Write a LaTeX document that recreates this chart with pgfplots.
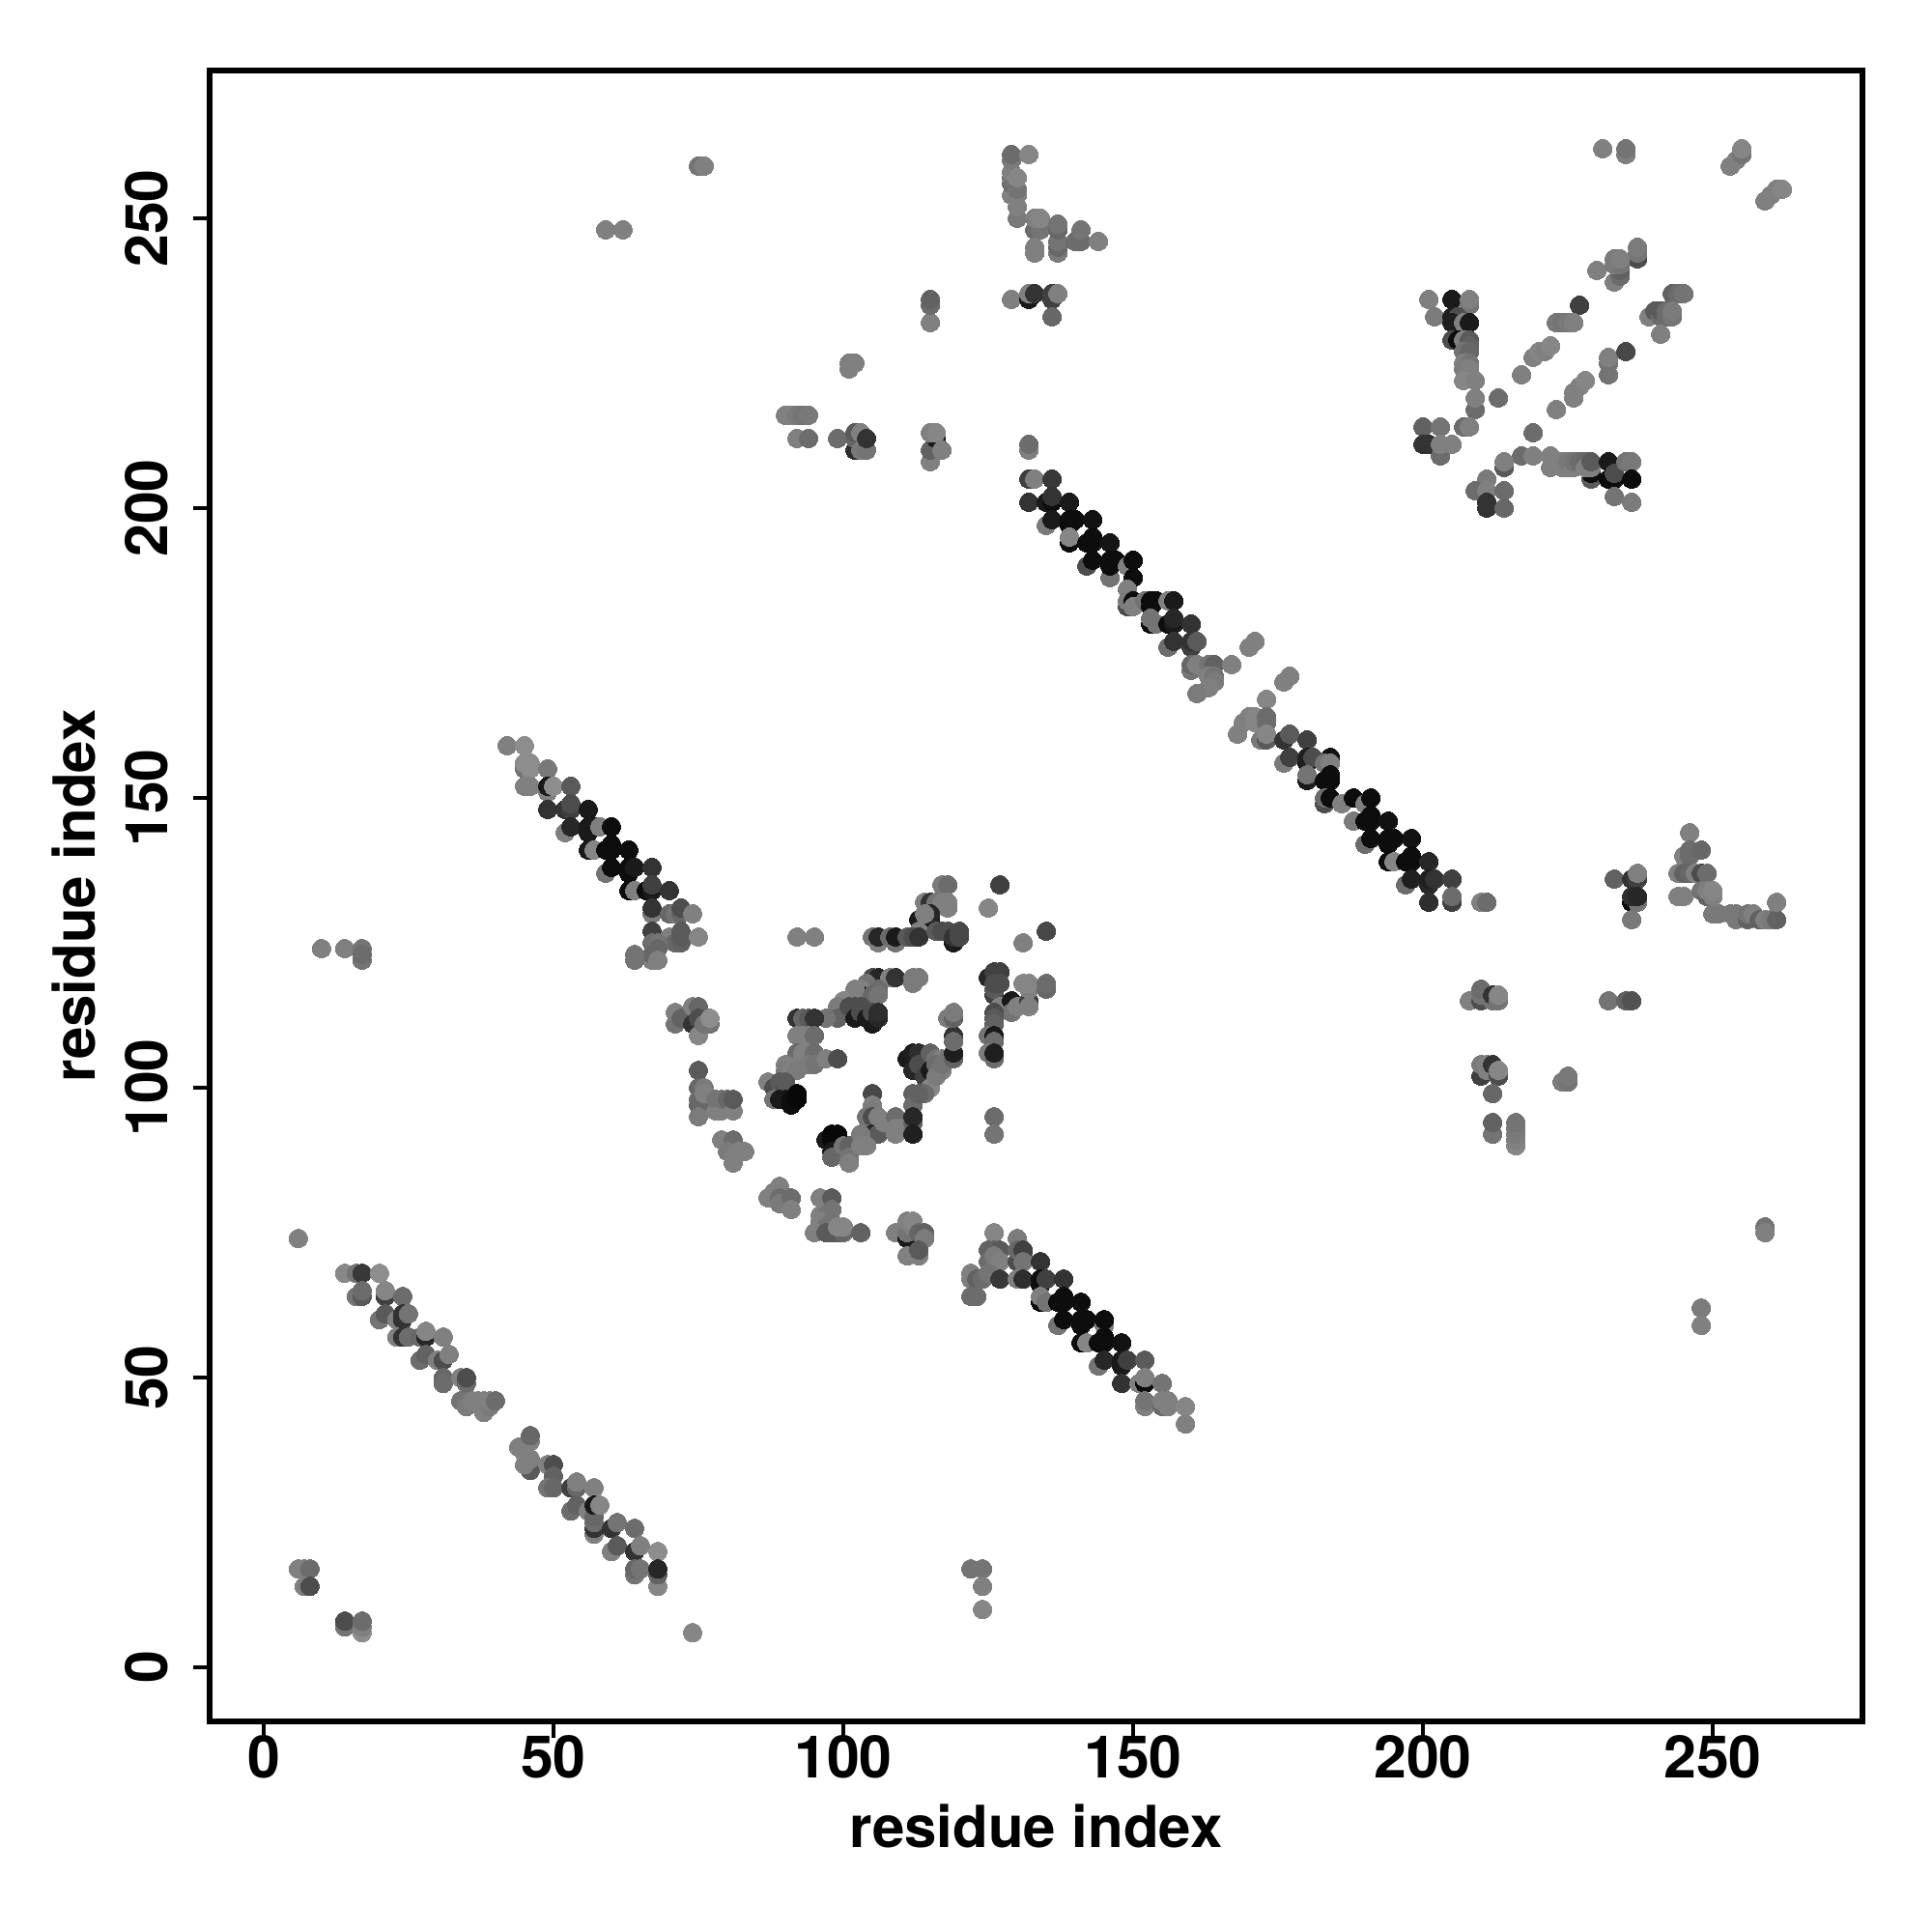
\documentclass[border=0pt]{standalone}
\usepackage{fontspec}
\setmainfont{TeX Gyre Heros}
\usepackage{pgfplots}
\usepackage{pgfplotstable}
\pgfplotsset{compat=1.18}
\pgfplotstableread[row sep=\\]{
x y g\\
6 74 50\\ 14 68 53\\ 16 68 45\\ 17 68 22\\ 20 68 55\\ 16 64 45\\ 17 64 35\\ 17 65 42\\ 21 64 25\\ 21 65 52\\ 24 64 42\\
20 60 45\\ 21 61 35\\ 23 60 50\\ 24 60 20\\ 24 61 20\\ 25 61 45\\ 23 57 50\\ 24 57 20\\ 25 57 42\\ 27 57 40\\ 28 57 15\\ 28 58 52\\ 31 57 50\\
27 53 42\\ 28 54 38\\ 30 53 50\\ 31 53 30\\ 32 54 50\\ 31 50 40\\ 31 49 42\\ 34 50 50\\ 35 49 42\\ 35 50 30\\
34 46 45\\ 35 45 48\\ 36 46 50\\ 37 46 50\\ 38 44 50\\ 38 46 50\\ 39 45 48\\ 39 46 50\\ 40 46 42\\
46 34 35\\ 45 35 50\\ 46 36 50\\ 45 37 50\\ 44 38 50\\ 46 39 50\\ 46 40 40\\ 49 35 50\\ 50 35 30\\ 50 33 38\\ 49 31 45\\ 50 31 40\\
53 31 25\\ 54 31 40\\ 54 32 50\\ 57 31 50\\ 53 27 42\\ 54 28 38\\ 56 27 50\\ 57 23 50\\ 57 24 20\\ 57 25 42\\ 57 26 40\\ 57 28 10\\ 58 28 52\\
60 24 20\\ 61 25 45\\ 64 24 42\\ 60 20 50\\ 61 21 35\\ 64 20 20\\ 65 21 50\\ 68 20 55\\ 64 16 45\\ 64 17 40\\ 65 17 45\\ 68 14 52\\ 68 16 38\\ 68 17 15\\
6 17 50\\ 7 17 50\\ 8 17 42\\ 7 14 50\\ 8 14 30\\ 14 7 45\\ 14 8 30\\ 17 6 55\\ 17 7 50\\ 17 8 42\\ 74 6 52\\
122 17 45\\ 124 17 45\\ 124 14 50\\ 124 10 52\\ 10 124 50\\ 14 124 50\\ 17 124 45\\ 17 122 45\\ 17 123 42\\
59 248 50\\ 62 248 50\\ 75 259 45\\ 76 259 50\\ 259 76 45\\ 259 75 50\\ 248 62 48\\ 248 59 50\\
42 159 50\\ 45 159 55\\ 45 155 45\\ 45 156 55\\ 46 155 55\\ 46 156 55\\ 49 155 47\\ 45 152 50\\ 46 152 50\\ 49 151 50\\ 49 152 10\\ 50 152 55\\ 53 152 35\\
49 148 20\\ 52 148 20\\ 53 148 25\\ 53 149 30\\ 56 148 10\\ 52 144 50\\ 53 145 15\\ 56 144 10\\ 56 145 10\\ 57 145 10\\ 58 145 50\\ 60 145 5\\
56 141 10\\ 57 141 52\\ 59 141 5\\ 60 141 5\\ 60 142 5\\ 63 141 5\\ 59 137 45\\ 60 138 5\\ 63 137 5\\ 63 138 5\\ 64 138 10\\ 67 138 20\\
63 134 5\\ 64 134 50\\ 66 134 5\\ 67 134 10\\ 67 135 25\\ 70 134 20\\ 67 130 48\\ 67 131 20\\ 70 130 40\\ 71 130 45\\ 72 130 40\\ 72 131 30\\ 74 130 50\\
67 127 25\\ 70 126 50\\ 71 125 40\\ 72 125 38\\ 72 126 35\\ 72 127 35\\ 75 126 52\\ 67 125 42\\ 68 125 45\\ 67 122 50\\ 67 123 40\\ 68 124 40\\ 68 122 50\\ 64 122 45\\ 64 123 45\\
92 126 50\\ 95 126 50\\ 71 111 45\\ 71 113 50\\ 72 112 38\\ 74 114 50\\ 75 114 40\\ 74 111 20\\ 75 112 30\\ 75 109 52\\ 76 111 45\\ 77 111 45\\ 77 112 55\\
75 103 35\\ 75 100 40\\ 75 98 42\\ 75 97 40\\ 75 95 48\\ 76 100 48\\ 76 99 50\\ 78 96 50\\ 78 98 45\\ 79 96 50\\ 79 98 45\\ 80 98 40\\ 81 96 50\\ 81 98 35\\
79 91 50\\ 81 91 42\\ 80 89 48\\ 81 87 50\\ 81 88 50\\ 82 89 50\\ 83 89 50\\
117 135 48\\ 118 135 42\\ 127 135 25\\ 114 132 50\\ 115 132 20\\ 116 132 45\\ 117 132 50\\ 118 131 50\\ 118 132 50\\ 113 129 10\\ 115 129 10\\ 115 130 15\\ 114 130 50\\ 113 127 50\\
105 126 45\\ 106 125 50\\ 106 126 15\\ 108 126 42\\ 109 125 45\\ 109 126 10\\ 111 126 35\\ 112 126 30\\ 113 126 20\\ 116 127 35\\ 117 127 30\\ 118 127 30\\ 119 125 10\\ 119 126 20\\ 120 126 28\\ 120 127 28\\
125 131 52\\ 135 127 28\\ 131 125 50\\ 125 119 15\\ 126 120 25\\ 127 120 25\\ 126 116 25\\ 126 117 35\\ 126 118 30\\ 127 118 30\\ 127 114 50\\ 129 115 10\\ 129 113 45\\ 130 114 50\\ 132 115 25\\ 132 114 50\\ 132 117 50\\ 131 118 52\\ 132 118 52\\ 135 117 40\\ 135 118 42\\
126 113 30\\ 126 112 35\\ 126 111 38\\ 125 109 45\\ 126 109 10\\ 126 108 42\\ 125 106 48\\ 126 105 42\\ 126 106 12\\ 126 95 42\\ 126 92 45\\
105 119 30\\ 105 118 40\\ 106 119 15\\ 108 119 50\\ 109 119 20\\ 112 118 48\\ 112 119 48\\ 113 119 48\\ 104 118 45\\ 103 117 50\\ 106 117 42\\ 103 116 10\\ 102 116 45\\ 102 117 50\\ 105 116 40\\ 106 116 45\\ 100 115 52\\ 99 114 48\\ 99 112 38\\ 97 112 45\\
101 114 30\\ 102 114 30\\ 103 114 30\\ 102 112 10\\ 103 113 30\\ 104 112 10\\ 105 111 10\\ 105 113 30\\ 106 112 15\\ 106 113 18\\
92 112 20\\ 93 112 40\\ 94 112 35\\ 95 112 20\\ 92 109 50\\ 93 109 50\\ 94 109 50\\ 95 109 42\\ 92 105 30\\ 92 106 42\\ 93 105 50\\ 93 106 50\\ 95 105 25\\ 95 106 42\\ 94 104 48\\ 95 104 45\\ 97 105 50\\ 99 105 30\\
90 104 50\\ 90 103 48\\ 91 103 50\\ 92 103 48\\ 87 101 50\\ 88 100 30\\ 89 101 35\\ 90 100 30\\ 90 101 35\\ 88 98 45\\ 89 98 10\\ 90 98 10\\ 91 97 5\\ 91 98 5\\ 92 98 3\\ 92 99 3\\
105 99 28\\ 105 97 50\\ 105 96 48\\ 104 95 45\\ 105 95 30\\ 104 92 45\\ 105 92 15\\ 106 92 35\\ 106 95 50\\ 107 94 50\\ 109 95 42\\ 109 92 50\\ 109 93 50\\ 110 93 50\\ 112 99 38\\ 112 97 42\\ 112 94 38\\ 112 95 15\\ 112 92 12\\
97 91 10\\ 98 91 3\\ 98 92 3\\ 99 92 3\\ 98 89 10\\ 98 88 40\\ 100 90 45\\ 101 90 38\\ 101 88 45\\ 101 87 50\\ 103 92 48\\ 103 90 50\\ 104 90 50\\
111 105 10\\ 112 106 12\\ 113 106 18\\ 112 103 15\\ 113 104 30\\ 114 103 30\\ 114 102 25\\ 115 103 10\\ 115 106 38\\ 116 105 45\\ 117 105 50\\ 116 104 42\\ 117 103 50\\ 115 100 52\\ 114 99 42\\ 113 99 38\\ 116 102 48\\ 117 104 45\\ 118 105 45\\
119 105 38\\ 119 106 12\\ 119 109 20\\ 119 108 42\\ 118 112 48\\ 119 112 38\\ 119 113 48\\
87 81 50\\ 88 82 50\\ 89 83 50\\ 89 81 42\\ 89 80 48\\ 91 81 42\\ 91 79 50\\ 96 81 50\\ 98 81 35\\ 96 78 50\\ 98 79 45\\ 97 78 45\\ 96 77 50\\ 97 76 45\\ 98 77 45\\ 95 75 50\\ 97 75 35\\ 98 75 35\\ 99 75 35\\ 100 75 40\\ 99 76 52\\ 100 76 52\\ 103 75 38\\
109 75 50\\ 111 74 10\\ 111 75 45\\ 111 77 50\\ 112 76 50\\ 112 77 52\\ 113 75 40\\ 114 75 38\\ 114 74 48\\ 111 71 50\\ 113 71 50\\ 113 72 35\\
126 75 52\\ 130 74 48\\ 125 72 38\\ 126 72 38\\ 127 72 35\\ 125 70 42\\ 126 71 48\\ 127 70 50\\ 130 70 30\\ 130 72 40\\ 131 71 40\\ 131 72 25\\ 131 70 45\\ 134 70 20\\
122 68 50\\ 122 67 50\\ 123 67 38\\ 124 67 42\\ 125 68 45\\ 127 67 22\\ 130 67 50\\ 131 67 18\\ 122 64 42\\ 123 64 42\\
134 66 5\\ 134 67 5\\ 135 67 25\\ 138 67 20\\ 134 63 5\\ 134 64 50\\ 135 63 45\\ 137 63 5\\ 138 63 5\\ 138 64 5\\ 141 63 5\\
137 59 45\\ 138 60 5\\ 141 59 5\\ 141 60 5\\ 142 60 5\\ 145 59 50\\ 145 60 5\\ 141 56 5\\ 142 56 52\\ 144 56 5\\ 145 56 5\\ 145 57 5\\ 148 56 7\\
144 52 45\\ 145 53 15\\ 148 52 10\\ 148 53 10\\ 149 53 25\\ 152 53 35\\ 148 49 20\\ 151 49 50\\ 152 49 5\\ 152 50 50\\ 155 49 45\\
152 45 50\\ 152 46 45\\ 155 45 42\\ 155 46 50\\ 156 45 50\\ 156 46 50\\ 159 45 52\\ 159 42 50\\
132 205 25\\ 133 205 50\\ 136 205 22\\ 132 201 20\\ 135 201 10\\ 136 201 5\\ 136 202 20\\ 139 201 10\\ 135 197 48\\ 136 198 10\\ 139 197 5\\ 139 198 5\\ 140 198 5\\ 143 198 7\\
139 194 5\\ 139 195 52\\ 142 194 5\\ 143 194 5\\ 143 195 5\\ 146 194 8\\ 142 190 30\\ 143 191 5\\ 146 188 45\\ 146 190 5\\ 146 191 5\\ 147 191 5\\ 149 190 50\\ 150 191 5\\ 150 188 5\\ 149 186 50\\
149 183 30\\ 149 184 48\\ 150 184 5\\ 150 183 50\\ 152 184 45\\ 153 184 5\\ 154 184 5\\ 153 183 5\\ 156 184 50\\ 157 184 10\\ 153 180 5\\ 153 181 45\\ 154 180 45\\ 156 180 5\\ 157 180 10\\ 157 181 15\\ 160 180 20\\
156 176 42\\ 157 177 20\\ 160 176 25\\ 160 177 20\\ 161 177 35\\ 160 172 45\\ 160 173 40\\ 161 173 50\\ 163 173 45\\ 164 173 38\\ 167 173 50\\ 163 171 50\\ 164 171 45\\ 164 170 48\\ 163 169 50\\ 161 168 48\\
170 176 50\\ 171 177 50\\ 176 170 50\\ 177 171 50\\ 173 167 52\\ 169 163 50\\ 170 164 50\\ 171 163 52\\ 171 164 52\\ 173 163 42\\ 173 164 42\\ 168 161 50\\ 172 160 48\\ 173 160 35\\ 173 161 52\\
176 160 20\\ 177 161 35\\ 180 160 25\\ 176 156 48\\ 177 157 25\\ 180 156 10\\ 180 157 12\\ 181 157 30\\ 184 157 7\\ 183 156 45\\ 184 156 50\\ 180 153 10\\ 180 154 45\\ 183 153 5\\ 184 153 5\\ 184 154 5\\
183 149 30\\ 183 150 42\\ 184 150 5\\ 186 149 50\\ 188 150 5\\ 190 149 50\\ 191 150 5\\ 188 146 48\\ 190 146 5\\ 191 146 5\\ 191 147 5\\ 194 146 7\\
190 142 42\\ 191 143 5\\ 194 142 5\\ 194 143 5\\ 195 143 5\\ 198 143 7\\ 194 139 5\\ 195 139 52\\ 197 139 5\\ 198 139 5\\ 198 140 5\\ 201 139 15\\
197 135 42\\ 198 136 12\\ 201 135 15\\ 201 136 12\\ 202 136 20\\ 205 136 25\\ 201 132 18\\ 205 132 25\\ 205 133 42\\ 210 132 50\\ 211 132 42\\
129 254 50\\ 129 256 42\\ 129 257 45\\ 129 258 50\\ 129 260 48\\ 129 261 42\\ 132 261 52\\ 130 250 47\\ 130 252 50\\ 130 254 50\\ 130 255 45\\ 130 257 52\\
133 248 42\\ 134 248 45\\ 133 250 50\\ 134 250 52\\ 133 244 50\\ 133 245 50\\ 137 244 48\\ 137 245 40\\ 137 246 45\\ 137 248 40\\ 137 249 45\\ 140 246 42\\ 141 246 42\\ 141 248 45\\ 144 246 50\\
129 236 50\\ 132 236 10\\ 132 237 50\\ 133 237 20\\ 136 236 25\\ 136 237 25\\ 137 237 50\\ 136 233 40\\ 115 232 50\\ 115 235 42\\ 115 236 38\\
101 224 50\\ 101 225 50\\ 102 225 50\\ 90 216 50\\ 91 216 50\\ 92 216 47\\ 93 216 45\\ 94 216 47\\ 92 212 50\\ 94 212 42\\ 99 212 42\\
102 210 18\\ 102 212 40\\ 102 213 35\\ 103 210 47\\ 103 213 50\\ 104 210 45\\ 104 212 20\\ 115 208 50\\ 115 210 38\\ 116 212 10\\ 115 213 50\\ 116 213 52\\ 117 210 50\\ 132 210 50\\ 132 211 42\\
231 262 50\\ 235 261 50\\ 235 262 45\\ 253 259 50\\ 254 260 50\\ 255 261 45\\ 255 262 52\\ 259 253 50\\ 260 254 50\\ 261 255 50\\ 262 255 52\\
237 243 30\\ 237 244 45\\ 237 245 48\\ 230 241 50\\ 233 239 50\\ 234 240 42\\ 234 241 38\\ 233 242 48\\ 234 242 45\\ 233 243 48\\ 234 243 50\\
243 237 38\\ 244 237 42\\ 245 237 45\\ 239 233 50\\ 240 234 35\\ 241 233 42\\ 241 234 35\\ 242 233 42\\ 242 234 42\\ 243 233 45\\ 243 234 48\\ 241 230 50\\ 227 235 25\\
223 232 47\\ 224 232 45\\ 225 232 47\\ 226 232 50\\ 217 223 50\\ 219 226 50\\ 220 227 52\\ 221 227 50\\ 222 228 52\\ 232 223 45\\ 232 225 45\\ 232 226 50\\ 235 227 28\\ 223 217 50\\ 226 219 50\\ 226 220 50\\ 227 221 50\\ 228 222 52\\ 219 213 42\\
201 236 50\\ 205 236 10\\ 208 235 45\\ 208 236 50\\ 202 233 48\\ 205 233 12\\ 206 233 30\\ 205 232 12\\ 207 232 50\\ 208 232 10\\ 205 229 30\\ 206 229 5\\ 207 229 50\\
208 229 35\\ 208 228 38\\ 207 227 45\\ 208 227 40\\ 207 225 50\\ 208 225 45\\ 207 224 48\\ 208 224 50\\ 207 222 52\\ 209 222 50\\ 209 217 42\\ 209 219 50\\ 213 219 42\\
200 214 38\\ 203 214 45\\ 207 214 42\\ 208 214 50\\ 200 211 20\\ 201 211 20\\ 203 209 42\\ 203 211 50\\ 205 211 50\\
217 209 42\\ 219 209 50\\ 222 209 50\\ 214 207 35\\ 214 208 50\\ 222 207 50\\ 224 207 50\\ 224 208 50\\ 225 207 50\\ 225 208 47\\ 226 207 50\\ 226 208 45\\ 227 208 42\\ 228 208 40\\ 229 205 35\\ 229 206 5\\ 228 207 50\\ 229 207 50\\ 229 208 35\\
232 205 5\\ 232 208 10\\ 233 205 5\\ 233 206 30\\ 235 208 45\\ 236 208 47\\ 236 205 5\\ 233 202 45\\ 236 201 48\\
211 205 48\\ 209 203 42\\ 211 203 50\\ 214 203 42\\ 211 200 20\\ 211 201 20\\ 214 200 40\\
233 136 38\\ 236 136 20\\ 237 136 25\\ 237 137 50\\ 236 132 5\\ 237 132 45\\ 236 133 18\\ 237 133 15\\ 236 129 47\\
246 144 50\\ 245 140 50\\ 246 140 42\\ 246 141 42\\ 248 141 40\\ 244 137 50\\ 245 137 38\\ 246 137 40\\ 247 137 50\\ 248 137 30\\ 249 137 42\\ 244 133 50\\ 245 133 50\\ 248 134 45\\ 249 133 38\\ 249 134 50\\ 250 133 50\\ 250 134 52\\
250 130 47\\ 251 130 47\\ 253 130 47\\ 254 129 47\\ 254 130 47\\ 256 129 38\\ 256 130 45\\ 257 130 50\\ 258 129 38\\ 259 129 50\\ 260 129 48\\ 261 129 38\\ 261 132 50\\
232 115 45\\ 235 115 38\\ 236 115 32\\ 208 115 50\\ 210 115 30\\ 210 116 45\\ 210 117 42\\ 212 115 45\\ 212 116 20\\ 213 115 45\\ 213 116 52\\
210 102 25\\ 210 104 48\\ 211 103 50\\ 211 104 50\\ 212 104 20\\ 213 102 30\\ 213 103 52\\ 212 99 40\\ 224 101 48\\ 225 101 45\\ 225 102 47\\
212 92 45\\ 212 94 38\\ 216 90 52\\ 216 91 50\\ 216 92 48\\ 216 93 47\\ 216 94 45\\
}\contacts
\begin{document}
\begin{tikzpicture}[x=1pt,y=1pt]
\useasboundingbox (0,0) rectangle (500,500);
\begin{axis}[
  at={(54.25pt,54.5pt)}, anchor=south west,
  scale only axis, width=427.75pt, height=427.25pt,
  xmin=-9.33, xmax=275.83, ymin=-9.33, ymax=275.5,
  axis line style={line width=1.5pt},
  every tick/.style={black,line width=1.2pt},
  tick align=outside, tick pos=left,
  major tick length=4.2pt,
  xtick={0,50,100,150,200,250}, ytick={0,50,100,150,200,250},
  /pgf/number format/assume math mode=true,
  tick label style={font=\fontsize{15.2}{15.2}\selectfont\bfseries},
  yticklabel style={rotate=90,anchor=south},
  xticklabel shift=-4pt, yticklabel shift=3pt,
  label style={font=\fontsize{15}{15}\selectfont\bfseries},
  xlabel={residue index}, ylabel={residue index},
  xlabel style={at={(axis description cs:0.5,0)},anchor=north,yshift=-18pt},
  ylabel style={at={(axis description cs:0,0.5)},anchor=south,rotate=0,yshift=26pt},
  colormap={bwc}{gray(0cm)=(0); gray(1cm)=(1)},
  point meta min=0, point meta max=100,
  clip=true,
]
\addplot[scatter, only marks, mark=*, mark size=2.4pt, line width=0pt,
  scatter src=explicit,
  scatter/use mapped color={draw=mapped color, fill=mapped color}]
  table[x=x,y=y,meta=g] {\contacts};
\end{axis}
\end{tikzpicture}
\end{document}
